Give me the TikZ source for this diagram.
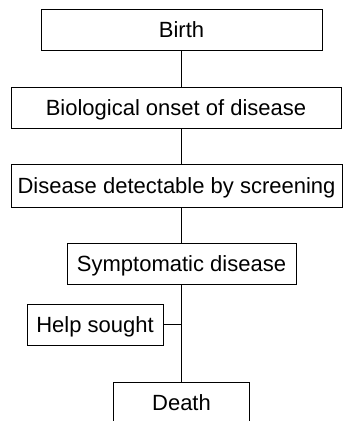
\documentclass[tikz,border=0pt]{standalone}
\usepackage{fontspec}
\setmainfont{Liberation Sans}
\begin{document}
\begin{tikzpicture}[x=1pt,y=-1pt,
  box/.style={draw,line width=0.9pt,inner sep=0pt,text height=16pt,text depth=0pt,
    font=\fontsize{22}{26}\selectfont},
  link/.style={line width=0.9pt}]
\useasboundingbox (0,0) rectangle (345,421);
\clip (0,0) rectangle (345,421);
\node[box,minimum width=281pt,minimum height=41pt] (birth) at (181.5,29.5) {Birth};
\node[box,minimum width=330pt,minimum height=41pt] (onset) at (176,107.5) {Biological onset of disease};
\node[box,minimum width=331pt,minimum height=43pt] (detect) at (176.5,185.5) {Disease detectable by screening};
\node[box,minimum width=229pt,minimum height=41pt] (sympt) at (181.5,263.5) {Symptomatic disease};
\node[box,minimum width=136pt,minimum height=41pt] (help) at (95,324.5) {Help sought};
\node[box,minimum width=136pt,minimum height=41pt] (death) at (181.5,402.5) {Death};
\draw[link] (birth.south) -- (birth.south |- onset.north);
\draw[link] (birth.south |- onset.south) -- (birth.south |- detect.north);
\draw[link] (birth.south |- detect.south) -- (sympt.north);
\draw[link] (sympt.south) -- (death.north);
\draw[link] (help.east) -- (help.east -| sympt.south);
\end{tikzpicture}
\end{document}
